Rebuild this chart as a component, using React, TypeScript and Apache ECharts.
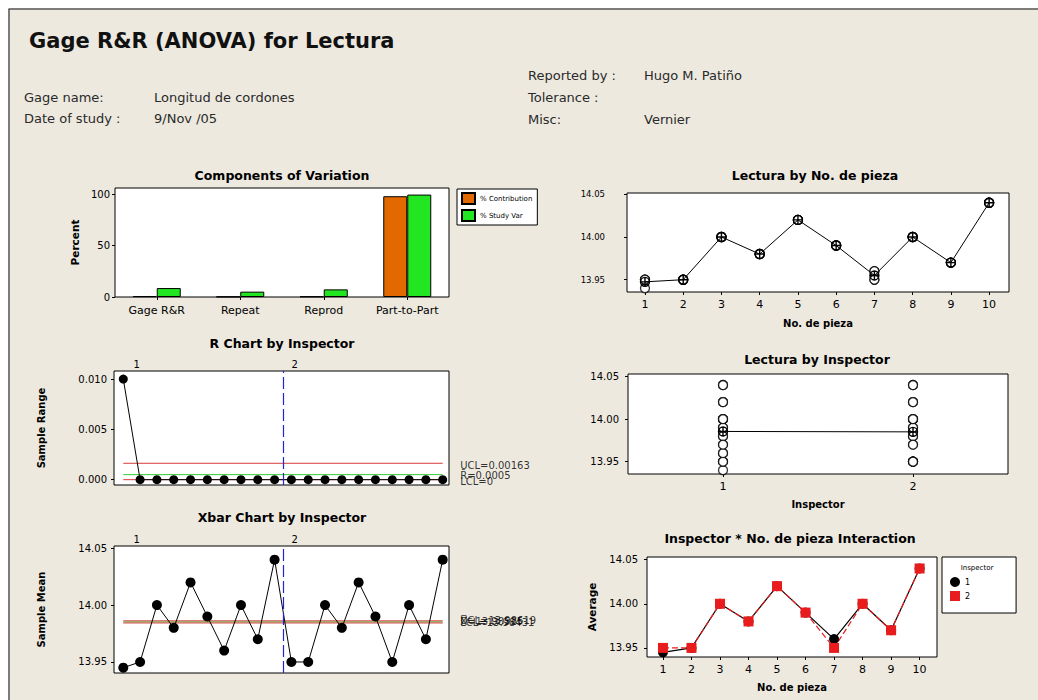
import React, { useEffect, useRef } from 'react';
import * as echarts from 'echarts';

// ---------- data ----------
const componentCategories = ['Gage R&R', 'Repeat', 'Reprod', 'Part-to-Part'];
const pctContribution = [0.8, 0.3, 0.5, 98];
const pctStudyVar = [8.7, 5.2, 7.4, 99.6];
const percentTicks = [0, 50, 100];

const parts = [1, 2, 3, 4, 5, 6, 7, 8, 9, 10];
const inspector1Trial1 = [13.94, 13.95, 14.0, 13.98, 14.02, 13.99, 13.96, 14.0, 13.97, 14.04];
const inspector1Trial2 = [13.95, 13.95, 14.0, 13.98, 14.02, 13.99, 13.96, 14.0, 13.97, 14.04];
const inspector2Trial1 = [13.95, 13.95, 14.0, 13.98, 14.02, 13.99, 13.95, 14.0, 13.97, 14.04];
const inspector2Trial2 = [13.95, 13.95, 14.0, 13.98, 14.02, 13.99, 13.95, 14.0, 13.97, 14.04];
const partMeans = [13.9475, 13.95, 14.0, 13.98, 14.02, 13.99, 13.955, 14.0, 13.97, 14.04];

const inspectors = [1, 2];
const inspectorMeans = [13.9855, 13.985];

const rangeInspector1 = [0.01, 0, 0, 0, 0, 0, 0, 0, 0, 0];
const rangeInspector2 = [0, 0, 0, 0, 0, 0, 0, 0, 0, 0];
const xbarInspector1 = [13.945, 13.95, 14.0, 13.98, 14.02, 13.99, 13.96, 14.0, 13.97, 14.04];
const xbarInspector2 = [13.95, 13.95, 14.0, 13.98, 14.02, 13.99, 13.95, 14.0, 13.97, 14.04];

const rUCL = 0.00163;
const rBar = 0.0005;
const rLCL = 0;
const xUCL = 13.98619;
const xBar = 13.98525;
const xLCL = 13.98431;

const readingTicks = [13.95, 14.0, 14.05];
const rangeTicks = [0, 0.005, 0.01];
const groupLabels = ['1', '2'];

// ---------- styling helpers ----------
const FONT = 'DejaVu Sans';
const ORANGE = '#e26800';
const GREEN = '#22e622';
const RED_LIMIT = '#d83a3a';
const GREEN_LIMIT = '#33cc33';
const BLUE_DASH = '#2323d8';
const crossCircle = 'path://M0,10A10,10,0,1,1,20,10A10,10,0,1,1,0,10ZM10,0L10,20M0,10L20,10';

function valueAxis(grid: number, min: number, max: number, ticks: number[] | null, fmt: (v: number) => string, extra: any = {}) {
  const base: any = {
    type: 'value',
    gridIndex: grid,
    min,
    max,
    axisLine: { show: false },
    splitLine: { show: false },
    axisTick: ticks
      ? { show: true, length: 3, inside: false, customValues: ticks, lineStyle: { color: '#000' } }
      : { show: false },
    axisLabel: ticks
      ? { show: true, customValues: ticks, formatter: fmt, color: '#000', fontSize: 10, fontFamily: FONT, margin: 7 }
      : { show: false },
  };
  return echarts.util.merge(base, extra, true);
}

function sampleData(a: number[], b: number[]) {
  return [...a, ...b].map((v, i) => [i + 1, v]);
}

function limitLine(x0: number, x1: number, y: number, color: string, xi: number, yi: number) {
  return {
    type: 'line',
    name: 'limit',
    xAxisIndex: xi,
    yAxisIndex: yi,
    data: [[x0, y], [x1, y]],
    symbol: 'none',
    silent: true,
    lineStyle: { color, width: 1 },
    z: 2,
  };
}

export default function App() {
  const ref = useRef<HTMLDivElement>(null);

  useEffect(() => {
    const chart = echarts.init(ref.current!, null, { renderer: 'svg' });
    const nSamples = parts.length * 2;

    const header = (text: string, x: number, y: number, font = `13px "${FONT}"`, fill = '#2a2a2a') => ({
      type: 'text',
      x,
      y,
      style: { text, font, fill, verticalAlign: 'middle' },
    });
    const panelTitle = (text: string, x: number, y: number) => ({
      type: 'text',
      x,
      y,
      style: { text, font: `bold 12.5px "${FONT}"`, fill: '#000', align: 'center', verticalAlign: 'middle' },
    });

    const option: any = {
      animation: false,
      backgroundColor: '#ede9df',
      textStyle: { fontFamily: FONT },
      graphic: [
        { type: 'rect', shape: { x: 0, y: 0, width: 1038, height: 8.5 }, style: { fill: '#fff' } },
        { type: 'rect', shape: { x: 0, y: 0, width: 8.5, height: 700 }, style: { fill: '#fff' } },
        { type: 'line', shape: { x1: 8.5, y1: 9, x2: 1038, y2: 9 }, style: { stroke: '#555', lineWidth: 1.5 } },
        { type: 'line', shape: { x1: 9, y1: 9, x2: 9, y2: 700 }, style: { stroke: '#555', lineWidth: 1.5 } },
        header('Gage R&R (ANOVA) for Lectura', 29, 41, `bold 21px "${FONT}"`, '#111'),
        header('Gage name:', 24, 97),
        header('Longitud de cordones', 154, 97),
        header('Date of study :', 24, 118),
        header('9/Nov /05', 154, 118),
        header('Reported by :', 528, 75),
        header('Hugo M. Patiño', 644, 75),
        header('Tolerance :', 528, 97),
        header('Misc:', 528, 119),
        header('Vernier', 644, 119),
        panelTitle('Components of Variation', 282, 175),
        panelTitle('Lectura by No. de pieza', 815, 175),
        panelTitle('R Chart by Inspector', 282, 343),
        panelTitle('Lectura by Inspector', 817, 359),
        panelTitle('Xbar Chart by Inspector', 282, 517),
        panelTitle('Inspector * No. de pieza Interaction', 790, 538),
        {
          type: 'text',
          x: 977,
          y: 568,
          z: 100,
          style: { text: 'Inspector', font: `7px "${FONT}"`, fill: '#000', align: 'center', verticalAlign: 'middle' },
        },
      ],
      legend: [
        {
          data: ['% Contribution', '% Study Var'],
          orient: 'vertical',
          left: 457,
          top: 189,
          padding: [3, 5, 3, 4],
          itemWidth: 13,
          itemHeight: 11,
          itemGap: 4,
          icon: 'rect',
          backgroundColor: '#fff',
          borderColor: '#000',
          borderWidth: 1,
          textStyle: { fontSize: 7, color: '#000', fontFamily: FONT },
          selectedMode: false,
        },
        {
          data: [
            { name: '1', icon: 'circle' },
            { name: '2', icon: 'rect' },
          ],
          orient: 'vertical',
          left: 942,
          top: 557,
          padding: [20, 46, 12, 8],
          itemWidth: 10,
          itemHeight: 10,
          itemGap: 4,
          backgroundColor: '#fff',
          borderColor: '#000',
          borderWidth: 1,
          textStyle: { fontSize: 8, color: '#000', fontFamily: FONT },
          selectedMode: false,
        },
      ],
      grid: [
        { left: 115, top: 188, width: 334, height: 109 },
        { left: 627, top: 193, width: 382, height: 99 },
        { left: 114, top: 371, width: 335, height: 114 },
        { left: 628, top: 374, width: 380, height: 100 },
        { left: 114, top: 546, width: 335, height: 127 },
        { left: 647, top: 557, width: 290, height: 100 },
      ].map((g) => ({ ...g, show: true, backgroundColor: '#fff', borderColor: '#000', borderWidth: 1, containLabel: false })),
      xAxis: [
        {
          type: 'category',
          gridIndex: 0,
          data: componentCategories,
          axisLine: { show: false },
          axisTick: { show: true, alignWithLabel: true, length: 3, lineStyle: { color: '#000' } },
          axisLabel: { color: '#000', fontSize: 11, margin: 8, interval: 0 },
        },
        valueAxis(1, 0.53, 10.52, parts, (v) => String(v), {
          axisLabel: { fontSize: 11, margin: 7 },
          name: 'No. de pieza',
          nameLocation: 'middle',
          nameGap: 26,
          nameTextStyle: { fontWeight: 'bold', fontSize: 10, color: '#000' },
        }),
        valueAxis(2, 0.447, 20.375, null, (v) => String(v)),
        valueAxis(2, 0.447, 20.375, [1.8, 11.2], (v) => (v < 10 ? groupLabels[0] : groupLabels[1]), {
          position: 'top',
          axisTick: { show: false },
          axisLabel: { fontSize: 10, margin: 2 },
        }),
        valueAxis(3, 0.5, 2.5, inspectors, (v) => String(v), {
          axisLabel: { fontSize: 11, margin: 7 },
          name: 'Inspector',
          nameLocation: 'middle',
          nameGap: 25,
          nameTextStyle: { fontWeight: 'bold', fontSize: 10, color: '#000' },
        }),
        valueAxis(4, 0.447, 20.375, null, (v) => String(v)),
        valueAxis(4, 0.447, 20.375, [1.8, 11.2], (v) => (v < 10 ? groupLabels[0] : groupLabels[1]), {
          position: 'top',
          axisTick: { show: false },
          axisLabel: { fontSize: 10, margin: 2 },
        }),
        valueAxis(5, 0.44, 10.61, parts, (v) => String(v), {
          axisLabel: { fontSize: 11, margin: 7 },
          name: 'No. de pieza',
          nameLocation: 'middle',
          nameGap: 25,
          nameTextStyle: { fontWeight: 'bold', fontSize: 10, color: '#000' },
        }),
      ],
      yAxis: [
        valueAxis(0, 0, 106, percentTicks, (v) => String(Math.round(v)), {
          axisLabel: { margin: 5 },
          name: 'Percent',
          nameLocation: 'middle',
          nameGap: 35,
          nameTextStyle: { fontWeight: 'bold', fontSize: 10.5, color: '#000' },
        }),
        valueAxis(1, 13.9356, 14.0515, readingTicks, (v) => v.toFixed(2), {
          axisLabel: { fontSize: 8.5, margin: 22 },
        }),
        valueAxis(2, -0.00053, 0.0108, rangeTicks, (v) => v.toFixed(3), {
          name: 'Sample Range',
          nameLocation: 'middle',
          nameGap: 68,
          nameTextStyle: { fontWeight: 'bold', fontSize: 10, color: '#000' },
        }),
        valueAxis(3, 13.9355, 14.053, readingTicks, (v) => v.toFixed(2), {
          axisLabel: { margin: 9 },
        }),
        valueAxis(4, 13.9403, 14.052, readingTicks, (v) => v.toFixed(2), {
          name: 'Sample Mean',
          nameLocation: 'middle',
          nameGap: 68,
          nameTextStyle: { fontWeight: 'bold', fontSize: 10, color: '#000' },
        }),
        valueAxis(5, 13.9397, 14.053, readingTicks, (v) => v.toFixed(2), {
          axisLabel: { margin: 9 },
          name: 'Average',
          nameLocation: 'middle',
          nameGap: 50,
          nameTextStyle: { fontWeight: 'bold', fontSize: 10.5, color: '#000' },
        }),
      ],
      series: [
        // Components of variation
        {
          type: 'bar',
          name: '% Contribution',
          xAxisIndex: 0,
          yAxisIndex: 0,
          data: pctContribution,
          barWidth: 24,
          barGap: '0%',
          itemStyle: { color: ORANGE, borderColor: '#000', borderWidth: 1 },
        },
        {
          type: 'bar',
          name: '% Study Var',
          xAxisIndex: 0,
          yAxisIndex: 0,
          data: pctStudyVar,
          barWidth: 24,
          barGap: '0%',
          itemStyle: { color: GREEN, borderColor: '#000', borderWidth: 1 },
        },
        // Lectura by part
        {
          type: 'scatter',
          name: 'partObs',
          xAxisIndex: 1,
          yAxisIndex: 1,
          data: [inspector1Trial1, inspector1Trial2, inspector2Trial1, inspector2Trial2].flatMap((arr) =>
            arr.map((v, i) => [parts[i], v])
          ),
          symbol: 'circle',
          symbolSize: 9,
          itemStyle: { color: '#fff', borderColor: '#000', borderWidth: 1.3 },
        },
        {
          type: 'line',
          name: 'partMean',
          xAxisIndex: 1,
          yAxisIndex: 1,
          data: parts.map((p, i) => [p, partMeans[i]]),
          symbol: crossCircle,
          symbolSize: 9,
          itemStyle: { color: 'rgba(255,255,255,0)', borderColor: '#000', borderWidth: 1.4 },
          lineStyle: { color: '#000', width: 1 },
        },
        // R chart
        limitLine(1, nSamples, rUCL, RED_LIMIT, 2, 2),
        limitLine(1, nSamples, rBar, GREEN_LIMIT, 2, 2),
        limitLine(1, nSamples, rLCL, RED_LIMIT, 2, 2),
        {
          type: 'line',
          name: 'rChart',
          xAxisIndex: 2,
          yAxisIndex: 2,
          data: sampleData(rangeInspector1, rangeInspector2),
          symbol: 'circle',
          symbolSize: 9,
          itemStyle: { color: '#000' },
          lineStyle: { color: '#000', width: 1 },
          z: 3,
          markLine: {
            silent: true,
            symbol: ['none', 'none'],
            label: { show: false },
            lineStyle: { color: BLUE_DASH, type: [12, 4], width: 1.2 },
            data: [{ xAxis: 10.5 }],
          },
        },
        {
          type: 'scatter',
          name: 'rLabels',
          xAxisIndex: 2,
          yAxisIndex: 2,
          symbolSize: 1,
          itemStyle: { color: 'rgba(0,0,0,0)' },
          label: {
            show: true,
            position: 'right',
            distance: 17,
            formatter: (p: any) => p.name,
            fontSize: 10,
            color: '#000',
          },
          data: [
            { name: `UCL=${rUCL}`, value: [nSamples, rUCL], label: { offset: [0, 2] } },
            { name: `R\u0304=${rBar}`, value: [nSamples, rBar], label: { offset: [0, 1] } },
            { name: `LCL=${rLCL}`, value: [nSamples, rLCL], label: { offset: [0, 2] } },
          ],
        },
        // Xbar chart
        limitLine(1, nSamples, xBar, GREEN_LIMIT, 5, 4),
        limitLine(1, nSamples, xUCL, RED_LIMIT, 5, 4),
        limitLine(1, nSamples, xLCL, RED_LIMIT, 5, 4),
        {
          type: 'line',
          name: 'xbarChart',
          xAxisIndex: 5,
          yAxisIndex: 4,
          data: sampleData(xbarInspector1, xbarInspector2),
          symbol: 'circle',
          symbolSize: 10,
          itemStyle: { color: '#000' },
          lineStyle: { color: '#000', width: 1 },
          z: 3,
          markLine: {
            silent: true,
            symbol: ['none', 'none'],
            label: { show: false },
            lineStyle: { color: BLUE_DASH, type: [12, 4], width: 1.2 },
            data: [{ xAxis: 10.5 }],
          },
        },
        {
          type: 'scatter',
          name: 'xLabels',
          xAxisIndex: 5,
          yAxisIndex: 4,
          symbolSize: 1,
          itemStyle: { color: 'rgba(0,0,0,0)' },
          label: {
            show: true,
            position: 'right',
            distance: 17,
            formatter: (p: any) => p.name,
            fontSize: 10,
            color: '#000',
          },
          data: [
            { name: `UCL=${xUCL}`, value: [nSamples, xUCL] },
            { name: `X\u033F=${xBar}`, value: [nSamples, xBar] },
            { name: `LCL=${xLCL}`, value: [nSamples, xLCL] },
          ],
        },
        // Lectura by inspector
        {
          type: 'scatter',
          name: 'inspObs',
          xAxisIndex: 4,
          yAxisIndex: 3,
          data: [
            ...[...inspector1Trial1, ...inspector1Trial2].map((v) => [inspectors[0], v]),
            ...[...inspector2Trial1, ...inspector2Trial2].map((v) => [inspectors[1], v]),
          ],
          symbol: 'circle',
          symbolSize: 9,
          itemStyle: { color: '#fff', borderColor: '#000', borderWidth: 1.3 },
        },
        {
          type: 'line',
          name: 'inspMean',
          xAxisIndex: 4,
          yAxisIndex: 3,
          data: inspectors.map((k, i) => [k, inspectorMeans[i]]),
          symbol: crossCircle,
          symbolSize: 9,
          itemStyle: { color: 'rgba(255,255,255,0)', borderColor: '#000', borderWidth: 1.4 },
          lineStyle: { color: '#000', width: 1 },
        },
        // Interaction
        {
          type: 'line',
          name: '1',
          xAxisIndex: 7,
          yAxisIndex: 5,
          data: parts.map((p, i) => [p, xbarInspector1[i]]),
          symbol: 'circle',
          symbolSize: 10,
          itemStyle: { color: '#000' },
          lineStyle: { color: '#000', width: 1.2 },
        },
        {
          type: 'line',
          name: '2',
          xAxisIndex: 7,
          yAxisIndex: 5,
          data: parts.map((p, i) => [p, xbarInspector2[i]]),
          symbol: 'rect',
          symbolSize: 10,
          itemStyle: { color: '#e81c1c' },
          lineStyle: { color: '#e81c1c', width: 1.2, type: [6, 3] },
        },
      ],
    };

    chart.setOption(option);
    return () => chart.dispose();
  }, []);

  return <div ref={ref} style={{ position: 'fixed', left: 0, top: 0, width: 1038, height: 700 }} />;
}
